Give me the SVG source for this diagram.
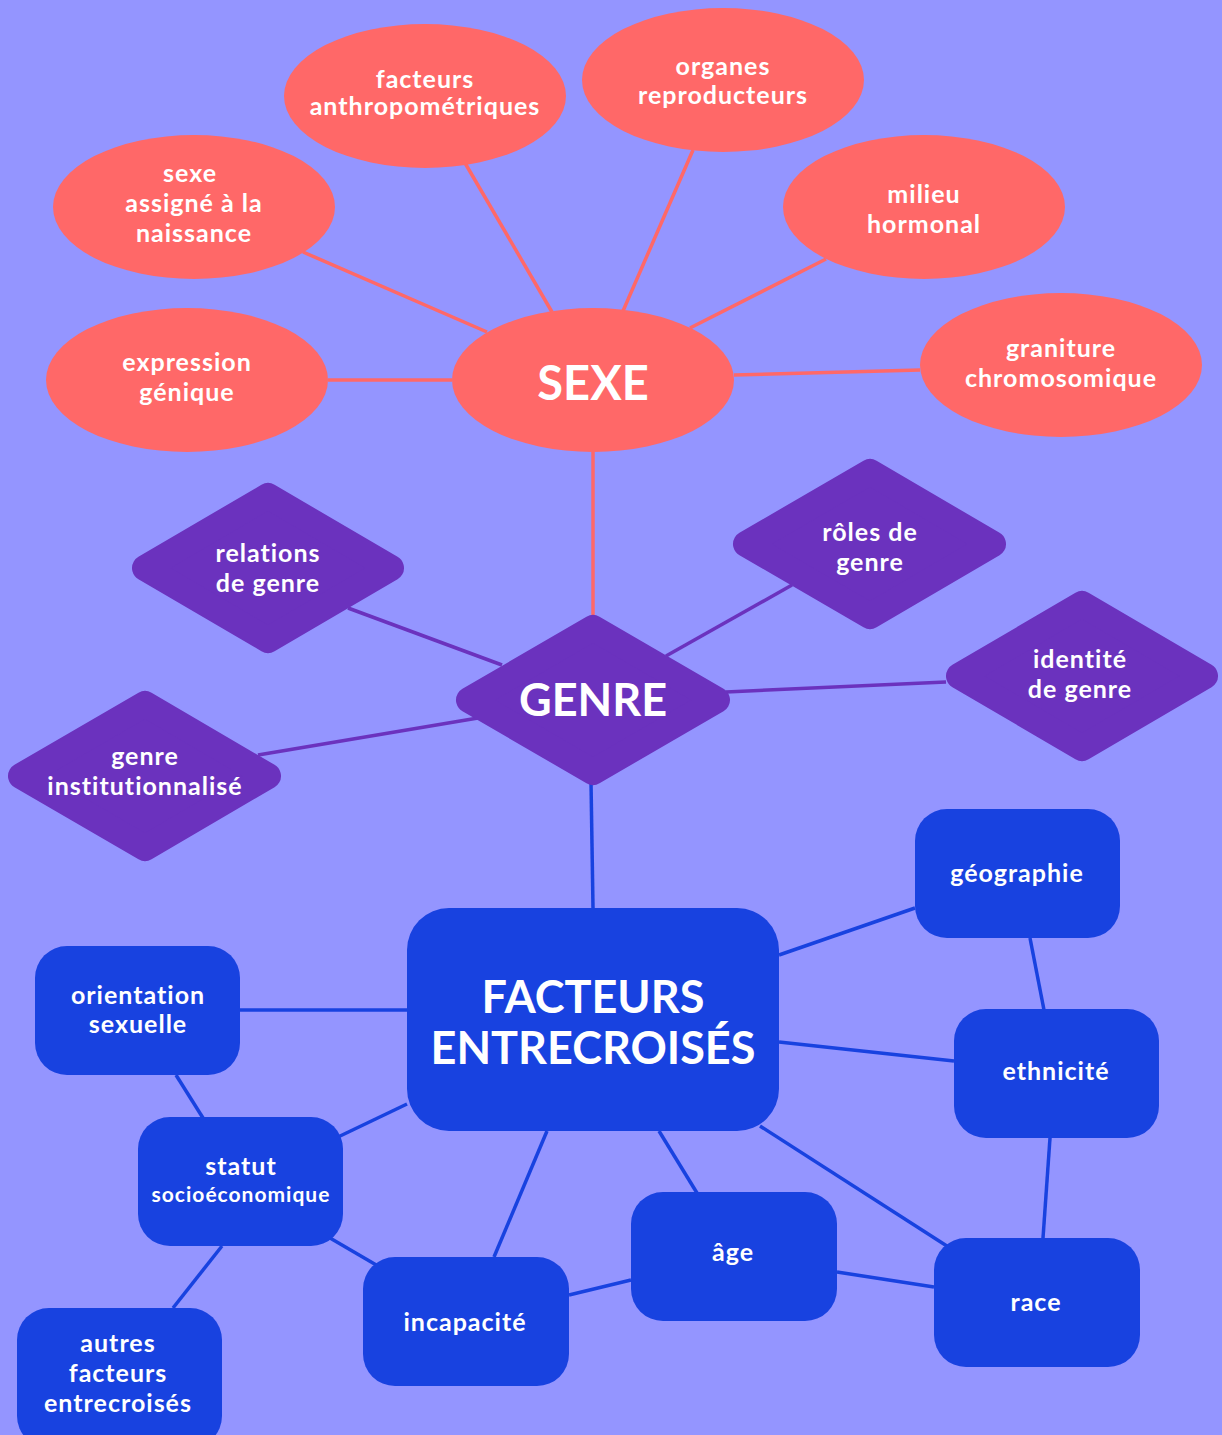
<svg xmlns="http://www.w3.org/2000/svg" width="1222" height="1435" viewBox="0 0 1222 1435">
<style>
.bg{fill:#9495FF}
.ell{fill:#FF6868}
.dia{fill:#6B32BE;stroke:#6B32BE;stroke-width:26;stroke-linejoin:round}
.box{fill:#1842E0}
.t{font-family:Lato,"Open Sans","DejaVu Sans",sans-serif;font-weight:bold;fill:#fff;text-anchor:middle;font-size:25px;letter-spacing:1px}
.big{font-size:47px;font-weight:bold;letter-spacing:0px}
.cs{stroke:#FF6868;stroke-width:3.5;fill:none}
.cp{stroke:#6B32BE;stroke-width:3.5;fill:none}
.cb{stroke:#1842E0;stroke-width:3.5;fill:none}
</style>
<rect class="bg" x="0" y="0" width="1222" height="1435"/>
<g id="connectors">
<line class="cs" x1="465" y1="163" x2="552" y2="312"/>
<line class="cs" x1="693" y1="150" x2="623" y2="311"/>
<line class="cs" x1="303" y1="252" x2="487" y2="332"/>
<line class="cs" x1="826" y1="259" x2="690" y2="328"/>
<line class="cs" x1="328" y1="380" x2="452" y2="380"/>
<line class="cs" x1="734" y1="375" x2="920" y2="370"/>
<line class="cs" x1="593" y1="452" x2="593" y2="620"/>
<line class="cp" x1="348" y1="608" x2="502" y2="665"/>
<line class="cp" x1="792" y1="585" x2="666" y2="656"/>
<line class="cp" x1="946" y1="682" x2="726" y2="692"/>
<line class="cp" x1="258" y1="755" x2="478" y2="718"/>
<line class="cb" x1="591" y1="782" x2="593" y2="908"/>
<line class="cb" x1="779" y1="955" x2="915" y2="908"/>
<line class="cb" x1="240" y1="1010" x2="407" y2="1010"/>
<line class="cb" x1="779" y1="1042" x2="954" y2="1061"/>
<line class="cb" x1="338" y1="1137" x2="407" y2="1104"/>
<line class="cb" x1="547" y1="1131" x2="494" y2="1257"/>
<line class="cb" x1="659" y1="1131" x2="697" y2="1193"/>
<line class="cb" x1="760" y1="1126" x2="950" y2="1248"/>
<line class="cb" x1="1030" y1="938" x2="1044" y2="1010"/>
<line class="cb" x1="1050" y1="1138" x2="1043" y2="1238"/>
<line class="cb" x1="176" y1="1075" x2="203" y2="1118"/>
<line class="cb" x1="330" y1="1238" x2="378" y2="1266"/>
<line class="cb" x1="222" y1="1246" x2="173" y2="1308"/>
<line class="cb" x1="569" y1="1295" x2="631" y2="1280"/>
<line class="cb" x1="837" y1="1272" x2="934" y2="1287"/>
</g>
<g id="sexe"><ellipse class="ell" cx="593" cy="380" rx="141" ry="72"/><text class="t big" x="593" y="400">SEXE</text></g>
<g id="anthropometriques"><ellipse class="ell" cx="425" cy="96" rx="141" ry="72"/><text class="t" x="425" y="88">facteurs</text><text class="t" x="425" y="115">anthropométriques</text></g>
<g id="organes"><ellipse class="ell" cx="723" cy="80" rx="141" ry="72"/><text class="t" x="723" y="75">organes</text><text class="t" x="723" y="104">reproducteurs</text></g>
<g id="sexe-assigne"><ellipse class="ell" cx="194" cy="207" rx="141" ry="72"/><text class="t" x="190" y="182">sexe</text><text class="t" x="194" y="212">assigné à la</text><text class="t" x="194" y="242">naissance</text></g>
<g id="milieu"><ellipse class="ell" cx="924" cy="207" rx="141" ry="72"/><text class="t" x="924" y="203">milieu</text><text class="t" x="924" y="233">hormonal</text></g>
<g id="expression"><ellipse class="ell" cx="187" cy="380" rx="141" ry="72"/><text class="t" x="187" y="371">expression</text><text class="t" x="187" y="401">génique</text></g>
<g id="graniture"><ellipse class="ell" cx="1061" cy="365" rx="141" ry="72"/><text class="t" x="1061" y="357">graniture</text><text class="t" x="1061" y="387">chromosomique</text></g>
<g id="genre"><polygon class="dia" points="593,628 717,700 593,772 469,700"/><text class="t big" x="593" y="716" style="font-size:45px">GENRE</text></g>
<g id="relations"><polygon class="dia" points="268,496 391,568 268,640 145,568"/><text class="t" x="268" y="562">relations</text><text class="t" x="268" y="592">de genre</text></g>
<g id="roles"><polygon class="dia" points="870,472 993,544 870,616 746,544"/><text class="t" x="870" y="541">rôles de</text><text class="t" x="870" y="571">genre</text></g>
<g id="identite"><polygon class="dia" points="1082,604 1205,676 1082,748 959,676"/><text class="t" x="1080" y="668">identité</text><text class="t" x="1080" y="698">de genre</text></g>
<g id="institutionnalise"><polygon class="dia" points="145,704 268,776 145,848 21,776"/><text class="t" x="145" y="765">genre</text><text class="t" x="145" y="795">institutionnalisé</text></g>
<g id="facteurs"><rect class="box" x="407" y="908" width="372" height="223" rx="42"/><text class="t big" x="593" y="1013" style="font-size:45px">FACTEURS</text><text class="t big" x="593" y="1064" style="font-size:45px">ENTRECROISÉS</text></g>
<g id="geographie"><rect class="box" x="915" y="809" width="205" height="129" rx="32"/><text class="t" x="1017" y="882">géographie</text></g>
<g id="orientation"><rect class="box" x="35" y="946" width="205" height="129" rx="32"/><text class="t" x="138" y="1004">orientation</text><text class="t" x="138" y="1033">sexuelle</text></g>
<g id="ethnicite"><rect class="box" x="954" y="1009" width="205" height="129" rx="32"/><text class="t" x="1056" y="1080">ethnicité</text></g>
<g id="statut"><rect class="box" x="138" y="1117" width="205" height="129" rx="32"/><text class="t" x="241" y="1175">statut</text><text class="t" x="241" y="1202" style="font-size:21px;letter-spacing:1px">socioéconomique</text></g>
<g id="age"><rect class="box" x="631" y="1192" width="206" height="129" rx="32"/><text class="t" x="733" y="1261">âge</text></g>
<g id="race"><rect class="box" x="934" y="1238" width="206" height="129" rx="32"/><text class="t" x="1036" y="1311">race</text></g>
<g id="incapacite"><rect class="box" x="363" y="1257" width="206" height="129" rx="32"/><text class="t" x="465" y="1331">incapacité</text></g>
<g id="autres"><rect class="box" x="17" y="1308" width="205" height="140" rx="32"/><text class="t" x="118" y="1352">autres</text><text class="t" x="118" y="1382">facteurs</text><text class="t" x="118" y="1412">entrecroisés</text></g>
</svg>
